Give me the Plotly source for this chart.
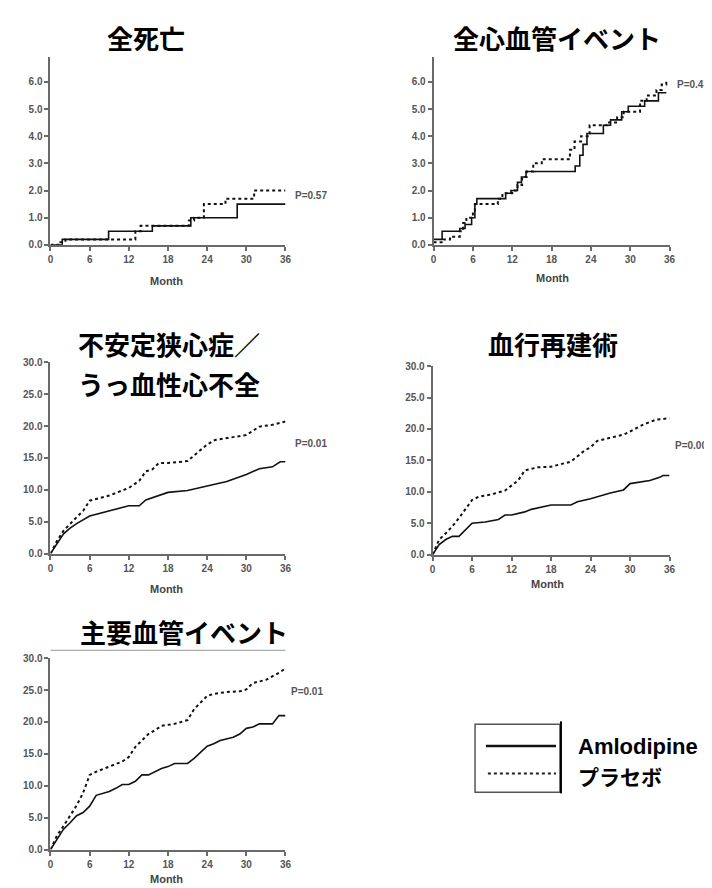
import plotly.graph_objects as go

W, H = 712, 888

# ---------------- data ----------------
months_ticks = [0, 6, 12, 18, 24, 30, 36]

# 全死亡
death_aml_t = [0, 1.8, 8.9, 15.6, 21.5, 28.6, 36]
death_aml_v = [0, 0.2, 0.5, 0.7, 1.0, 1.5, 1.5]
death_pla_t = [0, 1.5, 2.3, 13.0, 13.8, 21.2, 22.0, 23.5, 26.8, 31.2, 36]
death_pla_v = [0, 0.1, 0.2, 0.5, 0.7, 0.9, 1.0, 1.5, 1.7, 2.0, 2.0]

# 全心血管イベント
cv_aml_t = [0, 1.3, 4.0, 4.8, 5.8, 6.3, 6.6, 11.0, 11.8, 12.8, 13.4, 14.1, 21.6, 22.3, 22.8, 23.4, 25.9, 27.0, 28.7, 29.7, 32.2, 34.3, 35.5]
cv_aml_v = [0.2, 0.5, 0.6, 0.75, 1.0, 1.5, 1.7, 1.9, 2.0, 2.3, 2.5, 2.7, 2.9, 3.3, 3.7, 4.1, 4.4, 4.6, 4.9, 5.1, 5.3, 5.6, 5.6]
cv_pla_t = [0, 1.5, 2.5, 4.0, 4.5, 5.0, 6.0, 6.3, 9.8, 10.5, 12.0, 12.8, 13.5, 14.2, 15.2, 16.5, 20.8, 21.5, 22.5, 23.8, 26.5, 28.0, 29.0, 31.5, 32.5, 34.0, 34.8, 35.5]
cv_pla_v = [0.1, 0.2, 0.3, 0.5, 0.8, 1.0, 1.2, 1.5, 1.7, 1.9, 2.0, 2.2, 2.5, 2.7, 3.0, 3.15, 3.5, 3.8, 4.0, 4.4, 4.5, 4.7, 4.9, 5.3, 5.5, 5.7, 5.9, 6.0]

# 不安定狭心症／うっ血性心不全
ua_t = [0, 1, 2, 3, 4, 6, 9, 12, 13.6, 14.6, 18, 21, 24, 27, 30, 32, 34, 35.2, 36]
ua_aml_v = [0, 1.6, 3.1, 4.0, 4.7, 5.9, 6.7, 7.5, 7.5, 8.4, 9.6, 9.9, 10.6, 11.3, 12.4, 13.3, 13.6, 14.4, 14.4]
ua_pla_t = [0, 1, 2, 3, 4, 5, 6, 9, 12, 13.6, 14.6, 15.6, 16.6, 18, 21, 22.7, 24, 25.2, 27, 30, 32, 34, 36]
ua_pla_v = [0, 2.0, 3.6, 4.7, 5.7, 6.7, 8.3, 9.1, 10.3, 11.4, 12.9, 13.2, 14.2, 14.2, 14.5, 16.0, 17.1, 17.8, 18.1, 18.6, 19.9, 20.2, 20.7]

# 血行再建術
rv_aml_t = [0, 1, 2, 3, 4, 5, 6, 8, 10, 11, 12, 14, 15, 18, 21, 22, 24, 27, 29, 30, 33, 34.5, 35, 36]
rv_aml_v = [0, 1.6, 2.4, 2.9, 2.9, 3.9, 5.0, 5.2, 5.6, 6.3, 6.3, 6.8, 7.2, 7.9, 7.9, 8.4, 8.9, 9.8, 10.3, 11.3, 11.8, 12.3, 12.6, 12.6]
rv_pla_t = [0, 1, 2, 3, 4, 5, 6, 7, 9, 11, 12, 13, 14, 16, 18, 21, 23, 24, 25, 27, 29, 30, 32, 34, 36]
rv_pla_v = [0, 2.4, 3.4, 4.5, 5.8, 7.3, 8.7, 9.2, 9.6, 10.2, 11.0, 11.8, 13.4, 13.9, 14.0, 14.8, 16.5, 17.1, 18.1, 18.6, 19.1, 19.6, 20.7, 21.5, 21.7]

# 主要血管イベント
mv_aml_t = [0, 1, 2, 3, 4, 5, 6, 7, 9, 10, 11, 12, 13, 14, 15, 17, 18, 19, 21, 22, 23, 24, 25, 26, 28, 29, 30, 31, 32, 34, 35, 36]
mv_aml_v = [0, 1.5, 3.2, 4.2, 5.3, 5.8, 6.8, 8.5, 9.1, 9.6, 10.2, 10.2, 10.7, 11.7, 11.7, 12.7, 13.0, 13.5, 13.5, 14.3, 15.3, 16.2, 16.6, 17.1, 17.6, 18.1, 19.0, 19.2, 19.7, 19.7, 21.0, 21.0]
mv_pla_t = [0, 1, 2, 3, 4, 5, 6, 7, 9, 11, 12, 13, 14, 15, 16, 17, 19, 21, 22, 23, 24, 25, 27, 29, 30, 31, 33, 35, 36]
mv_pla_v = [0, 2.2, 3.7, 5.3, 6.9, 8.9, 11.7, 12.2, 13.0, 13.8, 14.5, 16.1, 17.1, 18.1, 18.7, 19.4, 19.7, 20.3, 22.0, 23.0, 24.1, 24.4, 24.7, 24.8, 25.1, 26.1, 26.6, 27.7, 28.4]

titles = ["全死亡", "全心血管イベント", "不安定狭心症／", "うっ血性心不全", "血行再建術", "主要血管イベント"]
p_values = ["P=0.57", "P=0.47", "P=0.01", "P=0.001", "P=0.01"]
series_names = ["Amlodipine", "プラセボ"]

# ---------------- layout helpers ----------------
panels = [
    dict(x0=40, x1=278, yb=234, yt=44, ymax=6.9, dt=1.0),
    dict(x0=428, x1=667, yb=234, yt=44, ymax=6.9, dt=1.0),
    dict(x0=40, x1=278, yb=547, yt=353, ymax=30, dt=5.0),
    dict(x0=427, x1=667, yb=548, yt=357, ymax=30, dt=5.0),
    dict(x0=40, x1=278, yb=847, yt=653, ymax=30, dt=5.0),
]
data = [
    (death_aml_t, death_aml_v, death_pla_t, death_pla_v, "hv"),
    (cv_aml_t, cv_aml_v, cv_pla_t, cv_pla_v, "hv"),
    (ua_t, ua_aml_v, ua_pla_t, ua_pla_v, "linear"),
    (rv_aml_t, rv_aml_v, rv_pla_t, rv_pla_v, "linear"),
    (mv_aml_t, mv_aml_v, mv_pla_t, mv_pla_v, "linear"),
]

def px(x):
    return x / W

def py(y):
    return 1 - y / H

fig = go.Figure()
layout = dict(
    width=W, height=H,
    margin=dict(l=0, r=0, t=0, b=0),
    paper_bgcolor="white", plot_bgcolor="white",
    showlegend=False,
)

AX = "#6a6a6a"
TICKFONT = dict(family="Liberation Sans, Arial", size=10, color="#555555", weight="bold")

for i, (p, d) in enumerate(zip(panels, data)):
    n = i + 1
    xa = "x" if n == 1 else f"x{n}"
    ya = "y" if n == 1 else f"y{n}"
    at, av, pt, pv, shape = d
    fig.add_trace(go.Scatter(x=at, y=av, mode="lines", xaxis=xa, yaxis=ya,
                             line=dict(color="#111111", width=1.6, shape=shape),
                             name=series_names[0]))
    fig.add_trace(go.Scatter(x=pt, y=pv, mode="lines", xaxis=xa, yaxis=ya,
                             line=dict(color="#111111", width=2, shape=shape, dash="dot"),
                             name=series_names[1]))
    nticks = int(round((p["ymax"] if p["ymax"] >= 10 else 6) / p["dt"]))
    yt = [round(k * p["dt"], 1) for k in range(nticks + 1)]
    layout["xaxis" if n == 1 else f"xaxis{n}"] = dict(
        domain=[px(p["x0"]), px(p["x1"])], anchor=ya, range=[0, 36],
        tickvals=months_ticks, ticktext=[str(m) for m in months_ticks],
        showline=True, linecolor=AX, linewidth=2, ticks="outside", ticklen=4,
        tickcolor=AX, tickwidth=1.5, showgrid=False, zeroline=False,
        tickfont=TICKFONT, fixedrange=True,
    )
    layout["yaxis" if n == 1 else f"yaxis{n}"] = dict(
        domain=[py(p["yb"]), py(p["yt"])], anchor=xa, range=[0, p["ymax"]],
        tickvals=yt, ticktext=[f"{v:.1f}" for v in yt],
        showline=True, linecolor=AX, linewidth=2, ticks="outside", ticklen=4,
        tickcolor=AX, tickwidth=1.5, showgrid=False, zeroline=False,
        tickfont=TICKFONT, fixedrange=True,
    )

fig.update_layout(**layout)

TITLEFONT = dict(family="Noto Sans CJK JP", size=26, color="#000000", weight="bold")
ann = []
title_pos = [(137, 24, "center"), (553, 24, "center"), (66, 334, "left"), (66, 375, "left"),
             (549, 334, "center"), (175, 626, "center")]
for t, (x, y, al) in zip(titles, title_pos):
    ann.append(dict(text=t, x=px(x), y=py(y), xref="paper", yref="paper",
                    xanchor=al, yanchor="middle", showarrow=False, font=TITLEFONT))

month_pos = [(157, 271), (548, 268), (157, 583), (543, 578), (157, 877)]
for x, y in month_pos:
    ann.append(dict(text="Month", x=px(x), y=py(y), xref="paper", yref="paper",
                    xanchor="center", yanchor="middle", showarrow=False,
                    font=dict(family="Liberation Sans, Arial", size=11, color="#444444", weight="bold")))

p_pos = [(286, 184), (672, 71), (286, 435), (670, 437), (282, 687)]
for t, (x, y) in zip(p_values, p_pos):
    ann.append(dict(text=t, x=px(x), y=py(y), xref="paper", yref="paper",
                    xanchor="left", yanchor="middle", showarrow=False,
                    font=dict(family="Liberation Sans, Arial", size=10, color="#555555", weight="bold")))

# legend text
LEGFONT = dict(family="Liberation Sans, Arial", size=22, color="#000000", weight="bold")
ann.append(dict(text=series_names[0], x=px(572), y=py(743), xref="paper", yref="paper",
                xanchor="left", yanchor="middle", showarrow=False, font=LEGFONT))
ann.append(dict(text=series_names[1], x=px(572), y=py(772), xref="paper", yref="paper",
                xanchor="left", yanchor="middle", showarrow=False,
                font=dict(family="Noto Sans CJK JP", size=21, color="#000000", weight="bold")))

shapes = [
    dict(type="rect", xref="paper", yref="paper", x0=px(470), x1=px(556), y0=py(789), y1=py(720),
         line=dict(color="#555555", width=1.5)),
    dict(type="line", xref="paper", yref="paper", x0=px(557), x1=px(557), y0=py(790), y1=py(717),
         line=dict(color="#000000", width=2)),
    dict(type="line", xref="paper", yref="paper", x0=px(481), x1=px(552), y0=py(742), y1=py(742),
         line=dict(color="#111111", width=2.5)),
    dict(type="line", xref="paper", yref="paper", x0=px(483), x1=px(552), y0=py(770), y1=py(770),
         line=dict(color="#222222", width=2, dash="dot")),
    dict(type="line", xref="paper", yref="paper", x0=px(40), x1=px(278), y0=py(645), y1=py(645),
         line=dict(color="#999999", width=1)),
]

fig.update_layout(annotations=ann, shapes=shapes)
fig.write_html("out.html")
